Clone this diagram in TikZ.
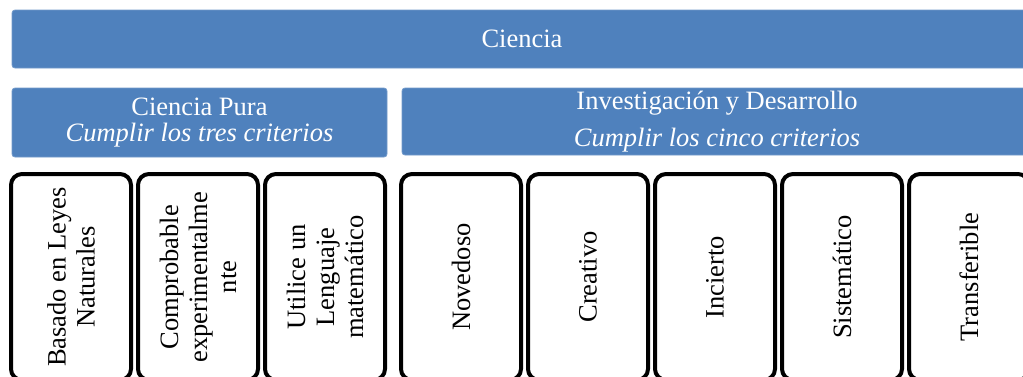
\documentclass[tikz,border=0pt]{standalone}
\usepackage{fontspec}
\setmainfont{Liberation Serif}
\definecolor{azul}{HTML}{4F81BD}
\begin{document}
\begin{tikzpicture}[x=1pt, y=-1pt,
  bloque/.style={fill=azul, draw=azul!80!white, line width=0.8pt, rounded corners=3pt,
    text=white, align=center, inner sep=0pt},
  criterio/.style={draw=black, fill=white, line width=4pt, rounded corners=11pt,
    rotate=90, minimum width=206pt, minimum height=120pt, align=center, inner sep=0pt,
    font=\fontsize{26.5}{29}\selectfont}]
  \clip (0,0) rectangle (1023,376);
  \node[bloque, minimum width=1020pt, minimum height=58pt, font=\fontsize{26.5}{26}\selectfont]
    (ciencia) at (522,39) {Ciencia};
  \node[bloque, minimum width=375pt, minimum height=69pt, font=\fontsize{26.5}{26}\selectfont]
    (pura) at (199.5,122.5) {Ciencia Pura\\\itshape Cumplir los tres criterios};
  \node[bloque, minimum width=630pt, minimum height=67pt, font=\fontsize{26.5}{37}\selectfont]
    (idesarrollo) at (717,121.5) {Investigación y Desarrollo\\\itshape Cumplir los cinco criterios};
  % criterios de ciencia pura
  \node[criterio] (leyes)     at (71,277)  {Basado en Leyes\\Naturales};
  \node[criterio] (comprob)   at (198,277) {Comprobable\\experimentalme\\nte};
  \node[criterio] (lenguaje)  at (325,277) {Utilice un\\Lenguaje\\matemático};
  % criterios de I+D
  \node[criterio] (novedoso)  at (461,277) {Novedoso};
  \node[criterio] (creativo)  at (588,277) {Creativo};
  \node[criterio] (incierto)  at (715,277) {Incierto};
  \node[criterio] (sistema)   at (842,277) {Sistemático};
  \node[criterio] (transfer)  at (969,277) {Transferible};
\end{tikzpicture}
\end{document}
